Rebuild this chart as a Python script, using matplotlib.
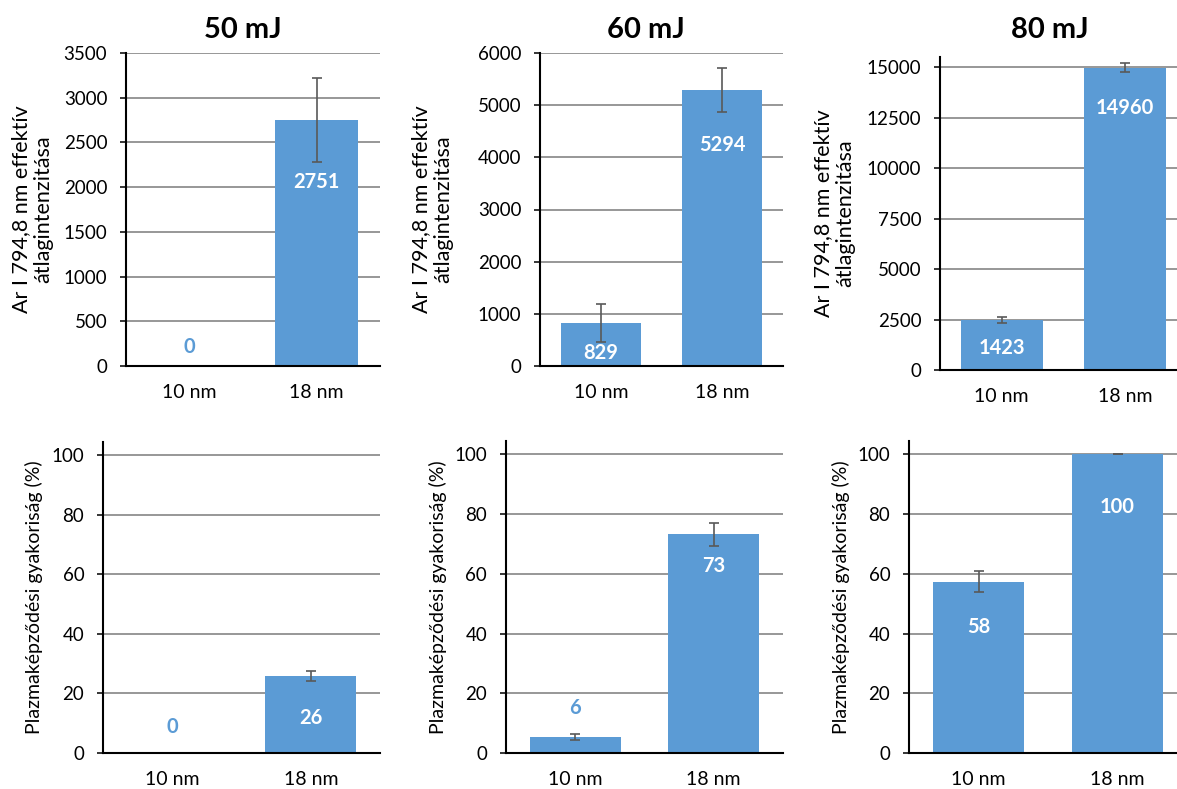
import matplotlib
matplotlib.use("Agg")
import matplotlib.pyplot as plt

plt.rcParams['font.family'] = ['Lato', 'DejaVu Sans']

cats = ["10 nm", "18 nm"]
titles = ["50 mJ", "60 mJ", "80 mJ"]

# top row: Ar I 794,8 nm intensity
int_50 = [0, 2751]
int_50_err = [0, 470]
int_60 = [829, 5294]
int_60_err = [364, 420]
int_80 = [2475, 14960]
int_80_err = [170, 220]
int_labels = [["0", "2751"], ["829", "5294"], ["1423", "14960"]]

# bottom row: plasma frequency (%)
freq_50 = [0, 25.8]
freq_50_err = [0, 1.7]
freq_60 = [5.4, 73.2]
freq_60_err = [1.0, 4.0]
freq_80 = [57.4, 100]
freq_80_err = [3.5, 0]
freq_labels = [["0", "26"], ["6", "73"], ["58", "100"]]

blue = "#5B9BD5"
W, H = 1177, 789
fig = plt.figure(figsize=(W / 100, H / 100), dpi=100)

# axes boxes in pixels: left, right, top, bottom
top_boxes = [(126, 380, 53, 366), (540, 783, 53, 366), (940, 1187, 57, 370)]
bot_boxes = [(103, 380, 442, 753), (506, 783, 441, 753), (909, 1187, 441, 753)]
top_ylims = [(3500, 500), (6000, 1000), (15500, 2500)]
top_tickmax = [3500, 6000, 15000]
top_labelx = [-0.287, -0.358, -0.344]
bot_labelx = [-0.217, -0.213, -0.212]
# label offsets (px) relative to bar top; positive = above bar (blue text)
top_offsets = [[19, -62], [-30, -55], [-28, -40]]
bot_offsets = [[26, -42], [29, -32], [-45, -53]]


def make_ax(box):
    l, r, t, b = box
    return fig.add_axes([l / W, 1 - b / H, (r - l) / W, (b - t) / H])


def style(ax, ymax, step, tickmax):
    ax.set_xlim(-0.5, 1.5)
    ax.set_ylim(0, ymax)
    ax.set_yticks(range(0, tickmax + 1, step))
    ax.set_xticks([0, 1])
    ax.set_xticklabels(cats)
    ax.grid(axis='y', color='#858585', linewidth=1.2)
    ax.set_axisbelow(True)
    for s in ['top', 'right']:
        ax.spines[s].set_visible(False)
    for s in ['left', 'bottom']:
        ax.spines[s].set_linewidth(1.5)
    ax.tick_params(axis='y', length=4.5, width=1.1, pad=9, labelsize=13.5)
    ax.tick_params(axis='x', length=0, pad=13, labelsize=14)


def draw(ax, vals, errs, labels, offsets):
    ax.bar([0, 1], vals, width=0.66, color=blue, zorder=2)
    for i in range(2):
        if errs[i] > 0 or vals[i] >= 100:
            ax.errorbar(i, vals[i], yerr=errs[i], fmt='none', ecolor='#595959',
                        elinewidth=1.2, capsize=3.5, capthick=1.2, zorder=3)
        off = offsets[i]
        col = 'white' if off < 0 else blue
        ax.annotate(labels[i], (i, vals[i]), xytext=(0, off * 0.72),
                    textcoords='offset points', ha='center', va='center',
                    fontsize=14.5, fontweight='bold', color=col, zorder=4)


top_data = [(int_50, int_50_err), (int_60, int_60_err), (int_80, int_80_err)]
bot_data = [(freq_50, freq_50_err), (freq_60, freq_60_err), (freq_80, freq_80_err)]

for k in range(3):
    ax = make_ax(top_boxes[k])
    style(ax, top_ylims[k][0], top_ylims[k][1], top_tickmax[k])
    draw(ax, top_data[k][0], top_data[k][1], int_labels[k], top_offsets[k])
    ax.set_ylabel("Ar I 794,8 nm effektív\nátlagintenzitása", fontsize=15.5,
                  linespacing=1.15)
    ax.yaxis.set_label_coords(top_labelx[k], 0.5)

    ax = make_ax(bot_boxes[k])
    style(ax, 104.5, 20, 100)
    draw(ax, bot_data[k][0], bot_data[k][1], freq_labels[k], bot_offsets[k])
    ax.set_ylabel("Plazmaképződési gyakoriság (%)", fontsize=14)
    ax.yaxis.set_label_coords(bot_labelx[k], 0.5)

title_x = [243, 646, 1050]
for k in range(3):
    fig.text(title_x[k] / W, 1 - 30 / H, titles[k], ha='center', va='center',
             fontsize=21, fontweight='bold')

fig.savefig("out.png", dpi=100)
